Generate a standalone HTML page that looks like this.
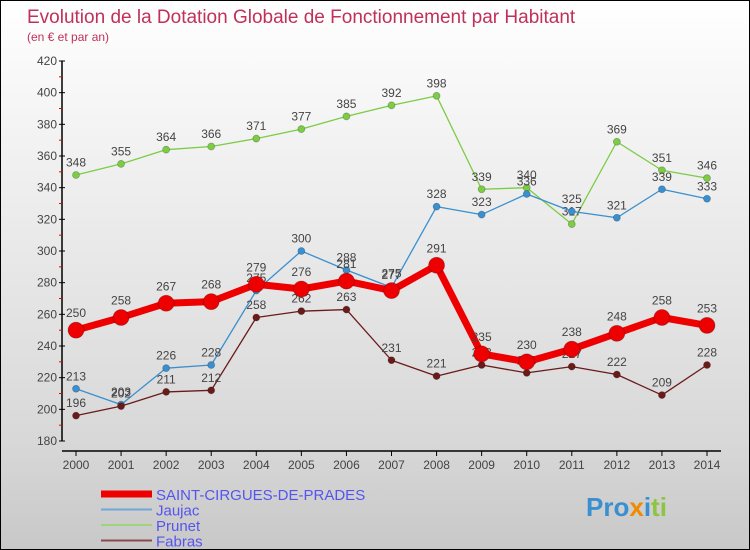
<!DOCTYPE html>
<html><head><meta charset="utf-8"><style>
body{margin:0;}
#c{width:750px;height:550px;position:relative;box-sizing:border-box;border:1px solid #000;background:linear-gradient(#fff 0%,#f0f0f0 30%,#d8d8d8 80%,#c8c8c8 100%);font-family:"Liberation Sans",sans-serif;overflow:hidden}
svg text{font-family:"Liberation Sans",sans-serif}
</style></head><body>
<div id="c">
<svg id="s" width="750" height="550">
<text x="26" y="22" font-size="19" fill="#c0305a">Evolution de la Dotation Globale de Fonctionnement par Habitant</text>
<text x="26" y="40" font-size="12" fill="#c0305a">(en € et par an)</text>
<g id="axes"></g><g id="series"></g><g id="legend"></g>
<text x="585" y="515" font-size="26" font-weight="bold"><tspan fill="#3a8fd0">Pro</tspan><tspan fill="#f08a00">x</tspan><tspan fill="#3a8fd0">i</tspan><tspan fill="#8cc63f">ti</tspan></text>
</svg></div>
<script>
const years=[2000,2001,2002,2003,2004,2005,2006,2007,2008,2009,2010,2011,2012,2013,2014];
const yTicks=[180,200,220,240,260,280,300,320,340,360,380,400,420];
const scp=[250,258,267,268,279,276,281,275,291,235,230,238,248,258,253];
const jaujac=[213,203,226,228,275,300,288,277,328,323,336,325,321,339,333];
const prunet=[348,355,364,366,371,377,385,392,398,339,340,317,369,351,346];
const fabras=[196,202,211,212,258,262,263,231,221,228,223,227,222,209,228];
const NS="http://www.w3.org/2000/svg";
function X(i){return 75+i*(706-75)/(years.length-1);}
function Y(v){return 440-(v-180)*380/240;}
function mk(t,a,p){const e=document.createElementNS(NS,t);for(const k in a)e.setAttribute(k,a[k]);p.appendChild(e);return e;}
const ax=document.getElementById('axes');
let l=mk('line',{x1:61,y1:Y(420),x2:61,y2:Y(180),stroke:'#000','stroke-width':1.5},ax);


yTicks.forEach((v,i)=>{
 mk('line',{x1:58,y1:Y(v),x2:64,y2:Y(v),stroke:'#000'},ax);
 if(i<yTicks.length-1)mk('line',{x1:58,y1:Y(v+10),x2:61,y2:Y(v+10),stroke:'#e00'},ax);
 const t=mk('text',{x:56,y:Y(v)+4,'font-size':12,fill:'#444','text-anchor':'end'},ax);t.textContent=v;
 
 
});
l=mk('line',{x1:61,y1:450,x2:720,y2:450,stroke:'#000','stroke-width':1.5},ax);


years.forEach((y,i)=>{
 mk('line',{x1:X(i),y1:450,x2:X(i),y2:455,stroke:'#000'},ax);
 const t=mk('text',{x:X(i),y:468,'font-size':12,fill:'#444','text-anchor':'middle'},ax);t.textContent=y;
 
 
});
const sg=document.getElementById('series');
function draw(vals,color,w,r,name){
 const g=mk('g',{},sg);
 
 
 mk('polyline',{points:vals.map((v,i)=>X(i)+','+Y(v)).join(' '),fill:'none',stroke:color,'stroke-width':w,'stroke-linejoin':'round'},g);
 vals.forEach((v,i)=>{
  const c=mk('circle',{cx:X(i),cy:Y(v),r:r,fill:color,stroke:'rgba(0,0,0,0.25)','stroke-width':0.8},g);
  
  
  const t=mk('text',{x:X(i),y:Y(v)-r-5,'font-size':12,fill:'#444','text-anchor':'middle'},g);t.textContent=v;
  
  
 });
}
draw(prunet,'#7ccc44',1.3,3.5,'prunet');
draw(jaujac,'#3a8fd0',1.3,3.5,'jaujac');
draw(fabras,'#6b1a1a',1.3,3.5,'fabras');
draw(scp,'#ee0000',7,8,'saint-cirgues');
const lg=document.getElementById('legend');
[['SAINT-CIRGUES-DE-PRADES','#ee0000',7],['Jaujac','#6fa8d8',2],['Prunet','#9ed47a',2],['Fabras','#8a4a4a',2]].forEach((e,i)=>{
 const y=493+i*15.5;
 mk('line',{x1:100,y1:y,x2:151,y2:y,stroke:e[1],'stroke-width':e[2]},lg);
 const t=mk('text',{x:155,y:y+6,'font-size':15,fill:'#5555ee'},lg);t.textContent=e[0];
 
 
});
</script>
</body></html>
